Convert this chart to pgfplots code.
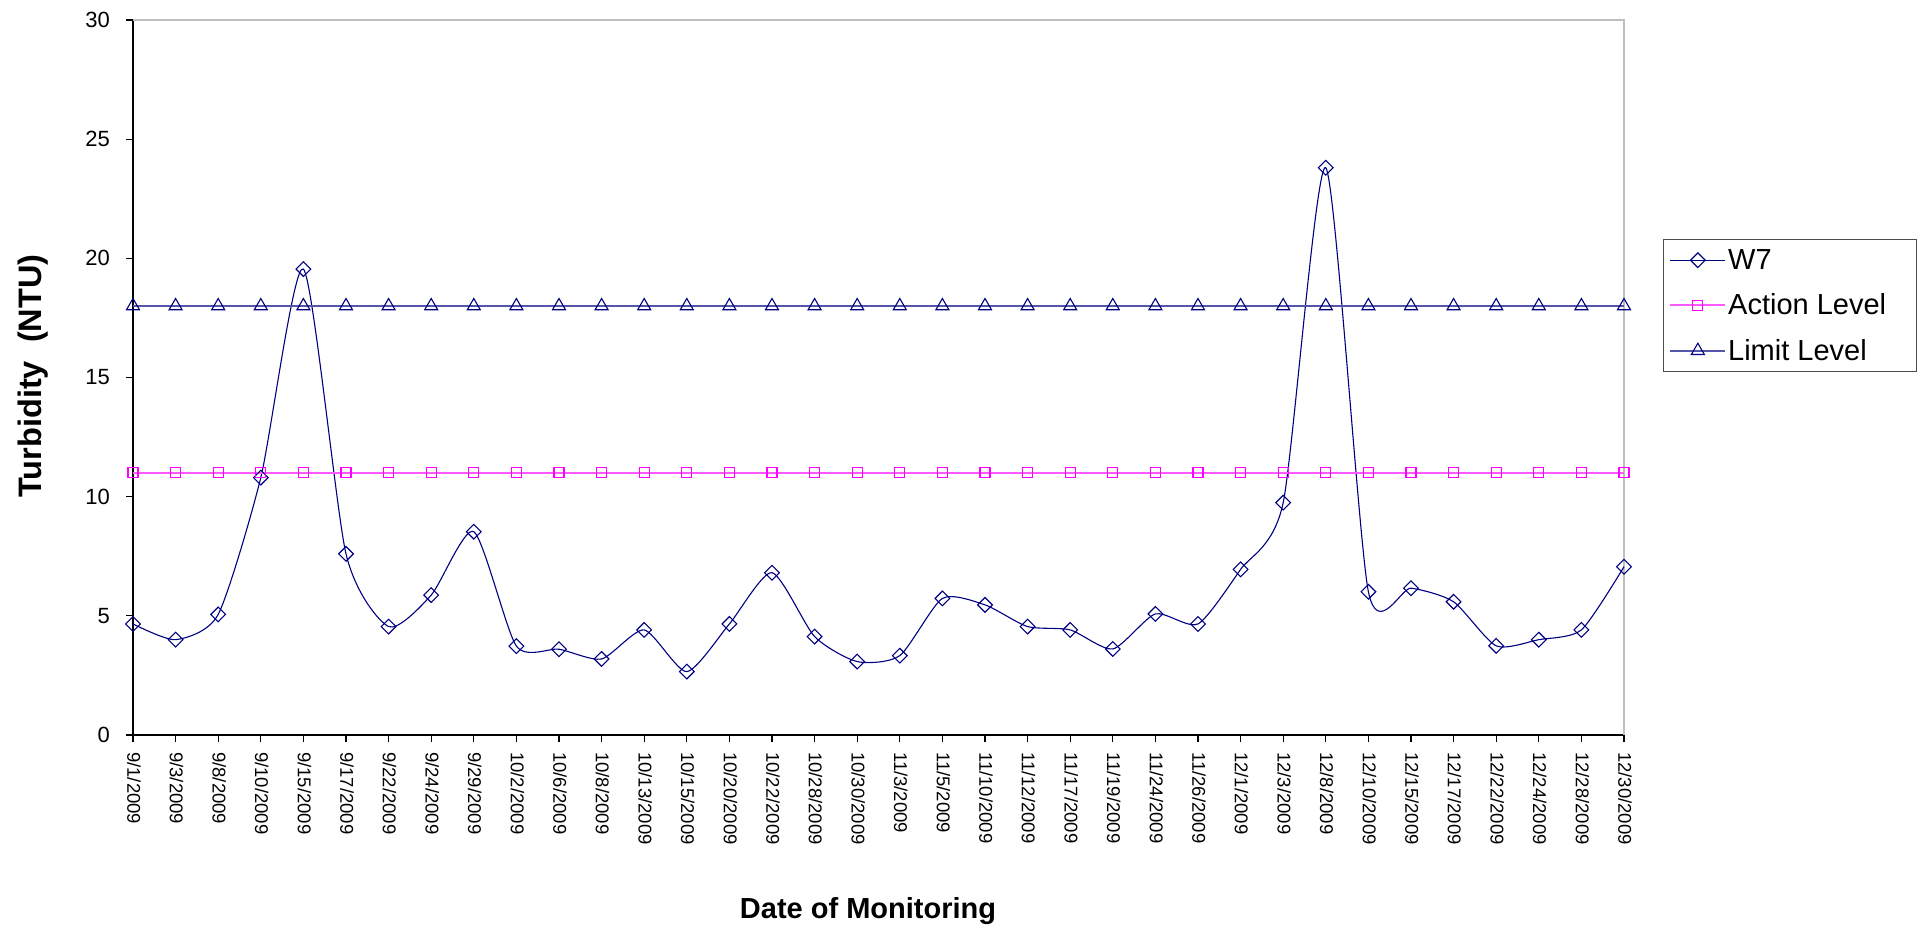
\documentclass[border=0pt]{standalone}
\usepackage{pgfplots}
\pgfplotsset{compat=1.18}
\usepackage{pgfplotstable}
\usepackage{fontspec}
\setmainfont{Liberation Sans}
\definecolor{wnavy}{RGB}{0,0,128}
\definecolor{limline}{RGB}{85,85,170}
\definecolor{actline}{RGB}{255,90,255}
\definecolor{actmark}{RGB}{255,0,255}

\pgfplotstableread{
x w7 act lim
0 4.66 11 18
1 4.00 11 18
2 5.06 11 18
3 10.8 11 18
4 19.55 11 18
5 7.60 11 18
6 4.55 11 18
7 5.87 11 18
8 8.53 11 18
9 3.73 11 18
10 3.60 11 18
11 3.19 11 18
12 4.41 11 18
13 2.66 11 18
14 4.66 11 18
15 6.81 11 18
16 4.13 11 18
17 3.08 11 18
18 3.33 11 18
19 5.73 11 18
20 5.46 11 18
21 4.55 11 18
22 4.41 11 18
23 3.61 11 18
24 5.08 11 18
25 4.66 11 18
26 6.95 11 18
27 9.75 11 18
28 23.8 11 18
29 6.01 11 18
30 6.16 11 18
31 5.59 11 18
32 3.74 11 18
33 4.00 11 18
34 4.41 11 18
35 7.06 11 18
}\datatable

\begin{document}
\begin{tikzpicture}[x=1pt,y=1pt]
\useasboundingbox (0,0) rectangle (1925,930);
\begin{axis}[
  at={(133pt,195pt)}, anchor=south west,
  scale only axis, width=1491pt, height=715pt,
  xmin=0, xmax=35, ymin=0, ymax=30,
  clip=false,
  axis x line*=bottom, axis y line*=left,
  axis line style={black, line width=1.2pt, -},
  tick align=outside, major tick length=7pt,
  tick style={black, line width=1.2pt},
  ytick={0,5,10,15,20,25,30},
  xtick={0,...,35},
  xticklabels={9/1/2009,9/3/2009,9/8/2009,9/10/2009,9/15/2009,9/17/2009,9/22/2009,9/24/2009,9/29/2009,10/2/2009,10/6/2009,10/8/2009,10/13/2009,10/15/2009,10/20/2009,10/22/2009,10/28/2009,10/30/2009,11/3/2009,11/5/2009,11/10/2009,11/12/2009,11/17/2009,11/19/2009,11/24/2009,11/26/2009,12/1/2009,12/3/2009,12/8/2009,12/10/2009,12/15/2009,12/17/2009,12/22/2009,12/24/2009,12/28/2009,12/30/2009},
  /pgf/number format/assume math mode=true,
  yticklabel style={font=\fontsize{22}{26}\selectfont, inner sep=0pt, xshift=-16pt},
  xticklabel style={font=\fontsize{18.5}{22}\selectfont, rotate=-90, anchor=west, inner sep=0pt, xshift=10pt, yshift=1pt},
  xlabel={\textbf{Date of Monitoring}},
  ylabel={\textbf{Turbidity\ \ (NTU)}},
  xlabel style={font=\fontsize{29}{33}\selectfont, at={(axis description cs:0.493,-0.246)}, anchor=center},
  ylabel style={font=\fontsize{32.5}{36}\selectfont, at={(axis description cs:-0.067,0.502)}, anchor=center, rotate=0},
  legend style={at={(axis description cs:1.0262,0.6937)}, anchor=north west,
    draw=black!70, line width=1pt, font=\fontsize{29}{33}\selectfont,
    inner xsep=6pt, inner ysep=8pt, row sep=19pt, cells={anchor=west}},
  legend image code/.code={\draw[mark repeat=2,mark phase=2,#1] plot coordinates {(0pt,0pt) (27.5pt,0pt) (55pt,0pt)};},
]
\draw[gray!50, line width=1.2pt] (rel axis cs:0,1) -- (rel axis cs:1,1) -- (rel axis cs:1,0);
\addplot[wnavy, line width=1.1pt, smooth, tension=0.4, mark=square, mark size=5.2pt,
  mark options={rotate=45, solid, line width=1.1pt, fill=none}]
  table[x=x, y=w7] {\datatable};
\addlegendentry{W7}
\addplot[actline, line width=1.6pt, mark=square, mark size=5pt,
  mark options={actmark, line width=1.1pt, fill=none}]
  table[x=x, y=act] {\datatable};
\addlegendentry{Action Level\hspace*{22pt}}
\addplot[limline, line width=1.6pt, mark=triangle, mark size=7.5pt,
  mark options={wnavy, line width=1.1pt, fill=white}]
  table[x=x, y=lim] {\datatable};
\addlegendentry{Limit Level}
\end{axis}
\end{tikzpicture}
\end{document}
